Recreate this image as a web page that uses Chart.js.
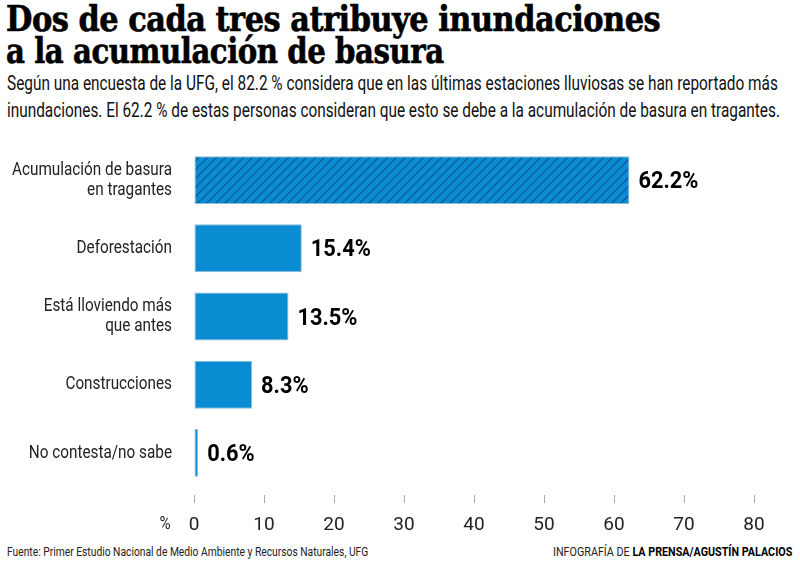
<!DOCTYPE html>
<html>
<head>
<meta charset="utf-8">
<script src="https://cdn.jsdelivr.net/npm/chart.js@4.4.1/dist/chart.umd.min.js"></script>
<style>
  html,body{margin:0;padding:0;background:#fff;}
  body{width:800px;height:562px;position:relative;overflow:hidden;font-family:"Roboto",sans-serif;color:#111;}
  .line{position:absolute;white-space:nowrap;transform-origin:0 0;}
  .t{left:6px;font-family:"DejaVu Serif Condensed","DejaVu Serif",serif;font-weight:bold;font-size:36px;line-height:36px;color:#000;-webkit-text-stroke:0.6px #000;letter-spacing:-0.5px;}
  .s{left:7px;font-size:19.5px;line-height:22px;color:#111;}
  .f{font-size:13.5px;line-height:16px;color:#222;}
  #cred b{color:#000;}
  #wrap{position:absolute;left:0;top:140px;width:800px;height:392px;}
</style>
</head>
<body>
<div class="line t" id="t1" style="top:0px">Dos de cada tres atribuye inundaciones</div>
<div class="line t" id="t2" style="top:32px">a la acumulación de basura</div>
<div class="line s" id="s1" style="top:73px">Según una encuesta de la UFG, el 82.2 % considera que en las últimas estaciones lluviosas se han reportado más</div>
<div class="line s" id="s2" style="top:100px">inundaciones. El 62.2 % de estas personas consideran que esto se debe a la acumulación de basura en tragantes.</div>
<div id="wrap"><canvas id="c"></canvas></div>
<div class="line f" id="src" style="left:7px;top:543px">Fuente: Primer Estudio Nacional de Medio Ambiente y Recursos Naturales, UFG</div>
<div class="line f" id="cred" style="left:553px;top:543px">INFOGRAFÍA DE <b>LA PRENSA/AGUSTÍN PALACIOS</b></div>
<script>
const categories=[
  ['Acumulación de basura','en tragantes'],
  'Deforestación',
  ['Está lloviendo más','que antes'],
  'Construcciones',
  'No contesta/no sabe'
];
const values=[62.2,15.4,13.5,8.3,0.6];
const xTicks=[0,10,20,30,40,50,60,70,80];

const font='"Roboto",sans-serif';
const blue='#0a8cd2';

// squeeze a line of html text to the width it has in the reference
function fit(id,w){
  const el=document.getElementById(id);
  el.style.transform='scaleX('+(w/el.scrollWidth)+')';
}
fit('t1',654);fit('t2',438);fit('s1',771);fit('s2',773);fit('src',361);fit('cred',239);

function hatch(){
  const p=document.createElement('canvas');
  p.width=9;p.height=9;
  const g=p.getContext('2d');
  g.fillStyle=blue;g.fillRect(0,0,9,9);
  g.strokeStyle='#0b5c92';g.lineWidth=1.3;
  g.beginPath();
  g.moveTo(-1,10);g.lineTo(10,-1);
  g.moveTo(-1,1);g.lineTo(1,-1);
  g.moveTo(8,10);g.lineTo(10,8);
  g.stroke();
  return g.createPattern(p,'repeat');
}
const pat=hatch();

function narrowText(ctx,txt,x,y,sx){
  ctx.save();
  ctx.translate(x,y);
  ctx.scale(sx,1);
  ctx.fillText(txt,0,0);
  ctx.restore();
}

const labelsPlugin={
  id:'labelsPlugin',
  afterDatasetsDraw(chart){
    const ctx=chart.ctx;
    const meta=chart.getDatasetMeta(0);
    const ys=chart.scales.y, xs=chart.scales.x;
    ctx.save();
    // small tick marks, detached from the bars
    ctx.strokeStyle='#aaa';
    ctx.lineWidth=1;
    ctx.beginPath();
    xTicks.forEach(v=>{
      const x=Math.round(xs.getPixelForValue(v))+0.5;
      ctx.moveTo(x,xs.top+8);ctx.lineTo(x,xs.top+16);
    });
    ctx.stroke();
    ctx.textBaseline='middle';
    // category labels
    ctx.font='19px '+font;
    ctx.fillStyle='#222';
    ctx.textAlign='right';
    const sx=160/ctx.measureText('Acumulación de basura').width;
    categories.forEach((c,i)=>{
      const lines=Array.isArray(c)?c:[c];
      const y0=ys.getPixelForValue(i)-(lines.length-1)*10;
      lines.forEach((l,k)=>narrowText(ctx,l,ys.right-22,y0+k*20,sx));
    });
    // value labels
    ctx.font='bold 24px '+font;
    ctx.fillStyle='#000';
    ctx.textAlign='left';
    const vx=60/ctx.measureText('62.2%').width;
    meta.data.forEach((bar,i)=>{
      narrowText(ctx,values[i].toFixed(1)+'%',bar.x+9,bar.y+2,vx);
    });
    ctx.font='19px '+font;
    ctx.fillStyle='#222';
    ctx.textAlign='center';
    narrowText(ctx,'%',xs.getPixelForValue(0)-29,xs.top+37,0.8);
    ctx.restore();
  }
};

new Chart(document.getElementById('c'),{
  type:'bar',
  data:{
    labels:categories,
    datasets:[{
      data:values,
      backgroundColor:values.map((v,i)=>i===0?pat:blue),
      borderColor:'#8fb9d4',
      borderWidth:1,
      borderSkipped:false,
      barPercentage:0.78,
      categoryPercentage:0.9
    }]
  },
  options:{
    indexAxis:'y',
    responsive:true,
    maintainAspectRatio:false,
    animation:false,
    layout:{padding:{top:6,right:46,left:0,bottom:0}},
    plugins:{legend:{display:false},tooltip:{enabled:false}},
    scales:{
      x:{
        min:0,max:80,
        afterBuildTicks(s){s.ticks=xTicks.map(v=>({value:v}));},
        afterFit(s){s.height=45;},
        border:{display:false},
        grid:{drawOnChartArea:false,drawTicks:false,tickLength:16},
        ticks:{padding:27,color:'#222',font:{family:font,size:19}}
      },
      y:{
        afterFit(s){s.width=194;},
        border:{display:false},
        grid:{display:false},
        ticks:{display:false}
      }
    }
  },
  plugins:[labelsPlugin]
});
</script>
</body>
</html>
